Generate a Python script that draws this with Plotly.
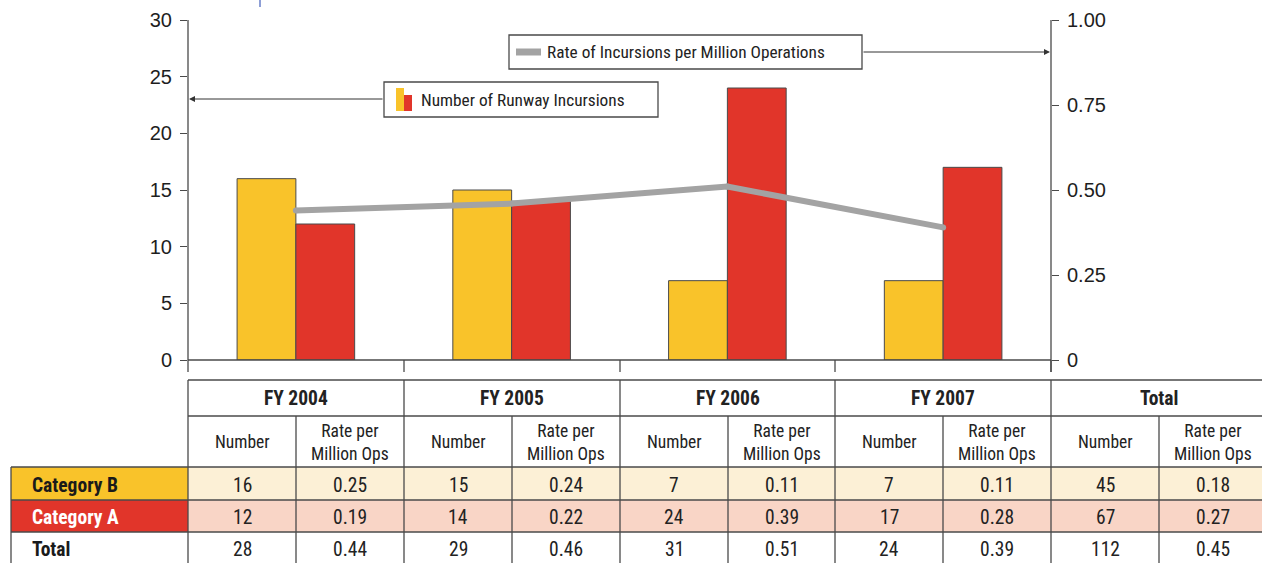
import plotly.graph_objects as go

# ---------------- data ----------------
years = ["FY 2004", "FY 2005", "FY 2006", "FY 2007"]
cat_b_number = [16, 15, 7, 7]
cat_b_rate = [0.25, 0.24, 0.11, 0.11]
cat_a_number = [12, 14, 24, 17]
cat_a_rate = [0.19, 0.22, 0.39, 0.28]
total_number = [28, 29, 31, 24]
total_rate = [0.44, 0.46, 0.51, 0.39]
overall_b = (45, 0.18)
overall_a = (67, 0.27)
overall_total = (112, 0.45)
left_ticks = [0, 5, 10, 15, 20, 25, 30]
right_ticks = [0, 0.25, 0.50, 0.75, 1.00]
right_tick_text = ["0", "0.25", "0.50", "0.75", "1.00"]

# ---------------- styling ----------------
W, H = 1262, 563
YELLOW = "#F9C32A"
RED = "#E1352A"
YELLOW_LIGHT = "#FCF0D6"
RED_LIGHT = "#F9D5C6"
GRAY_LINE = "#A3A3A3"
LINE = "#4a4a4a"
TXT = "#222222"
NARROW = "Liberation Sans Narrow, Arial Narrow, Roboto Condensed, sans-serif"
SANS = "Liberation Sans, Arial, Helvetica, sans-serif"


def px(x):
    return x / W


def py(y):
    return 1 - y / H


X0, X1 = 188, 1051
Y_TOP, Y_ZERO = 20, 360

fig = go.Figure()

xs = list(range(len(years)))
fig.add_trace(go.Bar(x=xs, y=cat_b_number, name="Category B", marker=dict(color=YELLOW, line=dict(color=LINE, width=1)), yaxis="y"))
fig.add_trace(go.Bar(x=xs, y=cat_a_number, name="Category A", marker=dict(color=RED, line=dict(color=LINE, width=1)), yaxis="y"))
fig.add_trace(go.Scatter(x=xs, y=total_rate, mode="lines+markers", yaxis="y2",
                         line=dict(color=GRAY_LINE, width=6),
                         marker=dict(color=GRAY_LINE, size=6),
                         name="Rate"))

shapes = []
annotations = []


def hline(x0, x1, y, w=1.3, color=LINE):
    shapes.append(dict(type="line", xref="paper", yref="paper", x0=px(x0), x1=px(x1), y0=py(y), y1=py(y),
                       line=dict(color=color, width=w), layer="above"))


def vline(x, y0, y1, w=1.3, color=LINE):
    shapes.append(dict(type="line", xref="paper", yref="paper", x0=px(x), x1=px(x), y0=py(y0), y1=py(y1),
                       line=dict(color=color, width=w), layer="above"))


def rect(x0, y0, x1, y1, fill, lw=0, lc=LINE, layer="below"):
    shapes.append(dict(type="rect", xref="paper", yref="paper", x0=px(x0), x1=px(x1), y0=py(y0), y1=py(y1),
                       fillcolor=fill, line=dict(color=lc, width=lw), layer=layer))


def text(x, y, s, size=16, family=NARROW, color=TXT, align="center", xanchor="center"):
    annotations.append(dict(xref="paper", yref="paper", x=px(x), y=py(y), text=s, showarrow=False,
                            font=dict(size=size, family=family, color=color), align=align,
                            xanchor=xanchor, yanchor="middle"))


# axis lines (extended below zero like the original)
vline(X0, Y_TOP, 372)
vline(X1, Y_TOP, 372)
hline(X0, X1, Y_ZERO)

# table geometry
edges = [188, 404, 620, 835, 1051, 1267]
row_top, row_h1, row_h2, row_b, row_a, row_end = 380, 416, 467, 500, 532, 563
for e in edges[1:-1]:
    vline(e, Y_ZERO, 372)

# row backgrounds
rect(11, row_h2, 188, row_b, YELLOW)
rect(11, row_b, 188, row_a, RED)
rect(188, row_h2, 1267, row_b, YELLOW_LIGHT)
rect(188, row_b, 1267, row_a, RED_LIGHT)

hline(188, 1267, row_top)
hline(188, 1267, row_h1)
hline(11, 1267, row_h2)
hline(11, 1267, row_b)
hline(11, 1267, row_a)
vline(11, row_h2, row_end)
for e in edges[:-1]:
    vline(e, row_top, row_end)
for e in edges[:-1]:
    vline(e + 108, row_h1, row_end)

NUM_SIZE = 19.5
groups = years + ["Total"]
b_vals = list(zip(cat_b_number, cat_b_rate)) + [overall_b]
a_vals = list(zip(cat_a_number, cat_a_rate)) + [overall_a]
t_vals = list(zip(total_number, total_rate)) + [overall_total]
for i, g in enumerate(groups):
    left = edges[i]
    text(left + 108, 398, "<b>" + g + "</b>", size=19.5)
    text(left + 54, 442, "Number", size=17.5)
    text(left + 162, 442, "Rate per<br>Million Ops", size=17.5)
    text(left + 54, 485, str(b_vals[i][0]), size=NUM_SIZE)
    text(left + 162, 485, f"{b_vals[i][1]:.2f}", size=NUM_SIZE)
    text(left + 54, 517, str(a_vals[i][0]), size=NUM_SIZE)
    text(left + 162, 517, f"{a_vals[i][1]:.2f}", size=NUM_SIZE)
    text(left + 54, 549, str(t_vals[i][0]), size=NUM_SIZE)
    text(left + 162, 549, f"{t_vals[i][1]:.2f}", size=NUM_SIZE)

text(30, 485, "<b>Category B</b>", size=19.5, color="#1a1a1a", xanchor="left")
text(30, 517, "<b>Category A</b>", size=19.5, color="#ffffff", xanchor="left")
text(30, 549, "<b>Total</b>", size=19.5, color="#1a1a1a", xanchor="left")

# legend boxes
rect(509, 35, 862, 69, "white", lw=1.3, layer="above")
shapes.append(dict(type="line", xref="paper", yref="paper", x0=px(516), x1=px(541), y0=py(52), y1=py(52),
                   line=dict(color=GRAY_LINE, width=7), layer="above"))
text(545, 52, "Rate of Incursions per Million Operations", size=17.3, xanchor="left")

rect(384, 82, 658, 117, "white", lw=1.3, layer="above")
rect(396, 88, 404, 111, YELLOW, layer="above")
rect(404, 95, 412, 111, RED, layer="above")
text(419, 100, "Number of Runway Incursions", size=17.3, xanchor="left")

# arrows
annotations.append(dict(xref="paper", yref="paper", x=px(X0 + 1), y=py(99), ax=384 - X0 - 1, ay=0,
                        showarrow=True, arrowhead=2, arrowsize=1.2, arrowwidth=1, arrowcolor="#333", text=""))
annotations.append(dict(xref="paper", yref="paper", x=px(X1 - 1), y=py(52), ax=862 - X1 + 1, ay=0,
                        showarrow=True, arrowhead=2, arrowsize=1.2, arrowwidth=1, arrowcolor="#333", text=""))

# tiny mark at the top
shapes.append(dict(type="line", xref="paper", yref="paper", x0=px(260), x1=px(260), y0=py(0), y1=py(7),
                   line=dict(color="#8E9FD6", width=2)))

fig.update_layout(
    width=W, height=H,
    margin=dict(l=0, r=0, t=0, b=0, pad=0, autoexpand=False),
    paper_bgcolor="white", plot_bgcolor="white",
    barmode="group", bargap=0.455, bargroupgap=0,
    showlegend=False,
    xaxis=dict(domain=[px(X0), px(X1)], range=[-0.5, 3.5], showticklabels=False, showgrid=False,
               zeroline=False, showline=False, ticks="", automargin=False),
    yaxis=dict(domain=[py(Y_ZERO), py(Y_TOP)], range=[0, 30], tickvals=left_ticks, showgrid=False,
               zeroline=False, showline=False, ticks="outside", ticklen=7, tickcolor=LINE, tickwidth=1.3,
               ticklabelstandoff=4, automargin=False,
               tickfont=dict(size=20, family=SANS, color="#1e1e1e")),
    yaxis2=dict(overlaying="y", side="right", anchor="x", range=[0, 1], tickvals=right_ticks,
                ticktext=right_tick_text, showgrid=False, zeroline=False, showline=False,
                ticks="outside", ticklen=7, tickcolor=LINE, tickwidth=1.3, ticklabelstandoff=4,
                automargin=False,
                tickfont=dict(size=20, family=SANS, color="#1e1e1e")),
    shapes=shapes,
    annotations=annotations,
)

fig.write_html(
    "out.html",
    config={"displayModeBar": False},
    post_script="document.documentElement.style.margin='0';document.body.style.margin='0';"
                "document.body.style.padding='0';document.body.style.overflow='hidden';",
)
